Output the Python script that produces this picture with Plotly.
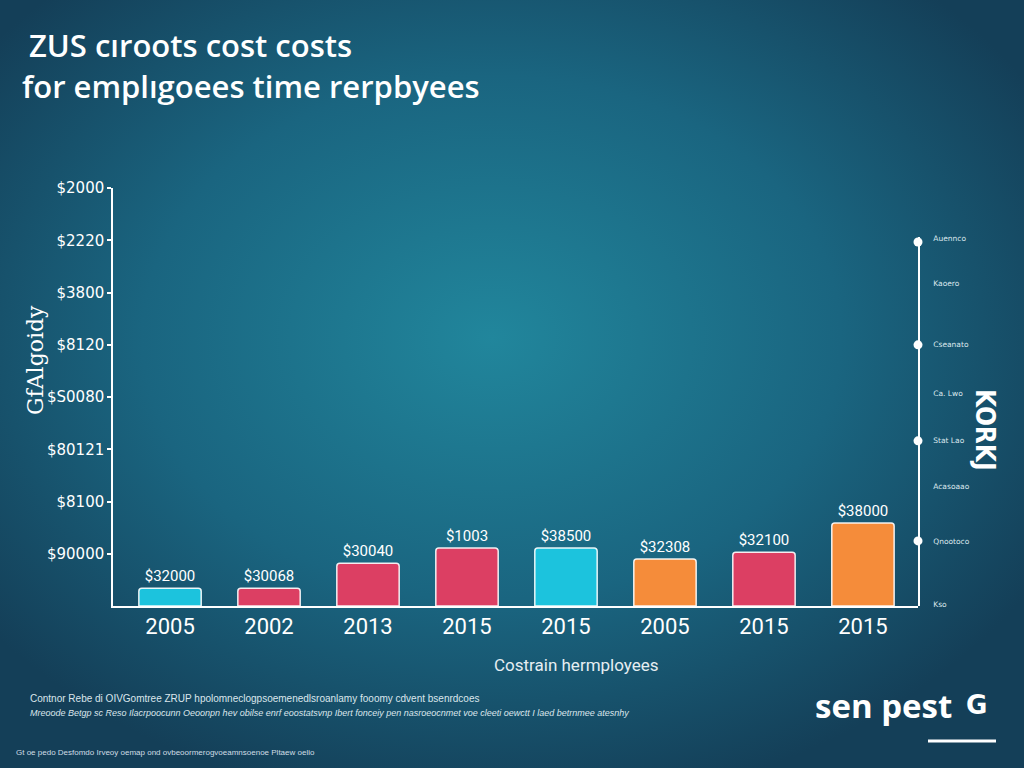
import base64
import plotly.graph_objects as go

# ---------------- data ----------------
positions = [0, 1, 2, 3, 4, 5, 6, 7]
year_labels = ["2005", "2002", "2013", "2015", "2015", "2005", "2015", "2015"]
costs = [340, 340, 820, 1110, 1110, 900, 1030, 1590]
bar_labels = ["$32000", "$30068", "$30040", "$1003", "$38500", "$32308", "$32100", "$38000"]
bar_colors = ["#1cc3dd", "#dc3f63", "#dc3f63", "#dc3f63", "#1cc3dd", "#f58c3a", "#dc3f63", "#f58c3a"]

left_tick_vals = [1000, 2000, 3000, 4000, 5000, 6000, 7000, 8000]
left_tick_text = ["$90000", "$8100", "$80121", "$S0080", "$8120", "$3800", "$2220", "$2000"]

right_tick_vals = [0.04, 1.43, 2.62, 3.63, 4.68, 5.74, 7.08, 8.07]
right_tick_text = ["Kso", "Qnootoco", "Acasoaao", "Stat Lao", "Ca. Lwo", "Cseanato", "Kaoero", "Auennco"]
marker_levels = [1.43, 3.63, 5.74, 8.0]

title_lines = ["ZUS cıroots cost costs", "for emplıgoees time rerpbyees"]

W, H = 1024, 768
ML, MR, MT, MB = 113, 106, 188, 162
PW, PH = W - ML - MR, H - MT - MB
R2_TOP = 8.12
R2_PX = 45.5 * R2_TOP

# ---------------- background gradient ----------------
svg = f'''<svg xmlns="http://www.w3.org/2000/svg" width="{W}" height="{H}" viewBox="0 0 {W} {H}" preserveAspectRatio="none">
<defs><radialGradient id="g" cx="0.48" cy="0.44" r="0.62">
<stop offset="0" stop-color="#21869c"/><stop offset="0.55" stop-color="#1a6580"/><stop offset="1" stop-color="#143f58"/>
</radialGradient></defs><rect width="{W}" height="{H}" fill="url(#g)"/></svg>'''
bg_uri = "data:image/svg+xml;base64," + base64.b64encode(svg.encode()).decode()

fig = go.Figure()

fig.add_trace(go.Bar(
    x=positions, y=costs, width=0.63,
    marker=dict(color=bar_colors, line=dict(color="rgba(255,255,255,0.9)", width=1.5), cornerradius=3),
    text=bar_labels, textposition="outside",
    textfont=dict(family="Roboto", size=15, color="white"),
    cliponaxis=False, showlegend=False, hoverinfo="skip",
))

fig.add_trace(go.Scatter(
    x=[1] * len(marker_levels), y=marker_levels, xaxis="x2", yaxis="y2",
    mode="markers", marker=dict(color="white", size=9),
    cliponaxis=False, showlegend=False, hoverinfo="skip",
))

fig.update_layout(
    width=W, height=H,
    margin=dict(l=ML, r=MR, t=MT, b=MB),
    paper_bgcolor="#174a62", plot_bgcolor="rgba(0,0,0,0)",
    images=[dict(source=bg_uri, xref="paper", yref="paper",
                 x=-ML / PW, y=1 + MT / PH, sizex=W / PW, sizey=H / PH,
                 xanchor="left", yanchor="top", sizing="stretch", layer="below")],
    xaxis=dict(range=[-0.576, 7.556], tickvals=positions, ticktext=year_labels,
               showgrid=False, zeroline=False, showline=True, linecolor="white", linewidth=1.5,
               ticks="", tickfont=dict(family="Roboto", size=22, color="white")),
    yaxis=dict(range=[0, 8000], tickvals=left_tick_vals, ticktext=left_tick_text,
               showgrid=False, zeroline=False, showline=True, linecolor="white", linewidth=1.5,
               ticks="outside", ticklen=4, tickcolor="white", tickwidth=1.5,
               tickfont=dict(family="DejaVu Sans", size=15, color="white")),
    xaxis2=dict(domain=[0, 1], range=[0, 1], anchor="y2", visible=False),
    yaxis2=dict(domain=[0, R2_PX / PH], range=[0, R2_TOP], anchor="x2", side="right",
                tickvals=right_tick_vals, ticktext=right_tick_text,
                showgrid=False, zeroline=False, showline=True, linecolor="white", linewidth=1.5,
                ticks="outside", ticklen=12, tickcolor="rgba(0,0,0,0)",
                tickfont=dict(family="DejaVu Sans", size=7.5, color="#dde8ee")),
    font=dict(family="Open Sans", color="white"),
)


def px_x(px):
    return (px - ML) / PW


def px_y(py):
    return (H - MB - py) / PH


ann = []
ann.append(dict(text=title_lines[0], xref="paper", yref="paper", x=px_x(27), y=px_y(45),
                xanchor="left", yanchor="middle", showarrow=False,
                font=dict(family="Open Sans", size=31, weight=600, color="white")))
ann.append(dict(text=title_lines[1], xref="paper", yref="paper", x=px_x(20), y=px_y(86),
                xanchor="left", yanchor="middle", showarrow=False,
                font=dict(family="Open Sans", size=31, weight=600, color="white")))
ann.append(dict(text="Costrain hermployees", xref="paper", yref="paper",
                x=px_x(576), y=px_y(665), xanchor="center", yanchor="middle",
                showarrow=False, font=dict(family="Roboto", size=17, color="#e6eef2")))
ann.append(dict(text="GfAlgoidy", xref="paper", yref="paper",
                x=px_x(35), y=px_y(360), xanchor="center", yanchor="middle",
                textangle=-90, showarrow=False,
                font=dict(family="DejaVu Serif", size=22, color="white")))
ann.append(dict(text="<b>KORKJ</b>", xref="paper", yref="paper",
                x=px_x(985), y=px_y(430), xanchor="center", yanchor="middle",
                textangle=90, showarrow=False,
                font=dict(family="DejaVu Sans Condensed", size=26, color="white")))
ann.append(dict(text="Contnor Rebe di OIVGomtree ZRUP hpolomneclogpsoemenedlsroanlamy fooomy cdvent bsenrdcoes",
                xref="paper", yref="paper", x=px_x(28), y=px_y(698),
                xanchor="left", yanchor="middle", showarrow=False,
                font=dict(family="Liberation Sans", size=10, color="#dbe6ec")))
ann.append(dict(text="<i>Mreoode Betgp sc Reso Ilacrpoocunn Oeoonpn hev obilse enrf eoostatsvnp Ibert fonceiy pen nasroeocnmet voe cleeti oewctt I laed betrnmee atesnhy</i>",
                xref="paper", yref="paper", x=px_x(28), y=px_y(713),
                xanchor="left", yanchor="middle", showarrow=False,
                font=dict(family="Liberation Sans", size=9, color="#dbe6ec")))
ann.append(dict(text="Gt oe pedo Desfomdo Irveoy oemap ond ovbeoormerogvoeamnsoenoe Pltaew oelio",
                xref="paper", yref="paper", x=px_x(14), y=px_y(752),
                xanchor="left", yanchor="middle", showarrow=False,
                font=dict(family="Liberation Sans", size=8, color="#cfdde5")))
ann.append(dict(text="<b>sen pest</b>", xref="paper", yref="paper",
                x=px_x(813), y=px_y(705), xanchor="left", yanchor="middle",
                showarrow=False, font=dict(family="Open Sans", size=33, color="white")))
ann.append(dict(text="<b>G</b>", xref="paper", yref="paper",
                x=px_x(976), y=px_y(705), xanchor="center", yanchor="middle",
                showarrow=False, font=dict(family="DejaVu Sans", size=26, color="white")))
fig.update_layout(annotations=ann)

fig.add_shape(type="line", xref="paper", yref="paper",
              x0=px_x(928), x1=px_x(996), y0=px_y(741), y1=px_y(741),
              line=dict(color="white", width=3))

fig.write_html("out.html", config={"displayModeBar": False},
               post_script="document.body.style.margin='0';document.body.style.background='#143f58';")
